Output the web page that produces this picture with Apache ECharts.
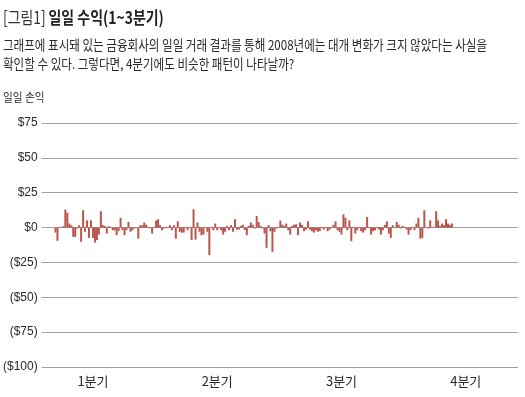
<!DOCTYPE html>
<html>
<head>
<meta charset="utf-8">
<script src="https://cdn.jsdelivr.net/npm/echarts@6/dist/echarts.min.js"></script>
<style>
  html, body { margin: 0; padding: 0; background: #ffffff; }
  #chart { width: 525px; height: 397px; }
</style>
</head>
<body>
<div id="chart"></div>
<script>
// 일일 손익 (단위: 달러), 1~3분기 거래일 순서
const dailyPnl = [
  -3.6, -9.5, 0.5, 0.3, 1, 12.9, 10.7, 2.9, 1.7, -6.7,
  -6.7, -0.7, 1.7, -10.2, 12.4, -3, 5.2, -7.4, 5.2, -7.4,
  -10.7, -9, -5, 11.7, 1.7, 1.2, -4.3, 1, 0.5, -2,
  -2, -5.5, -2.6, 7, -1.9, -5.5, -1.9, 4, -3, -1.9,
  -0.7, 0.5, -7.9, 1.7, 1.7, 3.6, 2, 0.5, -0.5, -4.3,
  0.5, 5, 6, 1.7, -1.9, -0.7, 0.5, 0.5, 1.7, -1.9,
  1.7, -7.9, 4.5, -3, -3.6, -3.6, 0.5, -1.9, 0.5, -9,
  13.1, -8.6, 3.6, -3, -5.5, -5, 0.5, -3, -19.8, 0.5,
  -1.9, 2.9, -1.9, 0.5, -1.9, -5, -3, 1.2, -1.9, 1.7,
  -3, 6, -1.4, -1.4, 1.2, 2, -1.9, -5.5, 1.2, 3.6,
  2, -0.7, 8.3, 4, 1.2, -0.7, -4.3, -14.5, 1.7, -2.6,
  -17.4, -3, -0.7, 0.5, 5, 2, 1.2, 2.9, -1.9, -5,
  1.2, 2, 2.4, -5.5, 3.6, 2, -2.6, -1.4, 4.5, -1.4,
  -2.6, -3.6, -1.9, -3, -2.6, 0.5, -1.4, 0.5, -2.6, -1.4,
  0.5, 2, 4.5, -1.9, -3, -5, 9.5, 7, -1.9, 5.2,
  -9.8, 0.5, -4.3, -1.9, 0.5, -2.6, -3.6, -1.9, 7.6, 0.5,
  -5, -2.6, -1.9, 0.5, -1.4, -5, -1.9, 2, 4.5, -4.3,
  -7.4, 1.7, 0.5, 4, 2, -0.7, 1.2, 0.5, -1.4, -5,
  -1.9, 0.5, -1.9, 2.9, 7, -7.9, -7.4, 12.4, 0.5, -0.7,
  5.2, 0.5, 0.5, 11.7, 5.2, 1.2, 2.9, 1.7, 6, 2.9,
  1.7, 2.9
];

// 분기 눈금 (거래일 번호 기준)
const quarterLabels = ['1분기', '2분기', '3분기', '4분기'];
const quarterTickDays = [19, 82, 145, 208];

// y축 눈금
const yMin = -100;
const yMax = 75;
const yStep = 25;

const descLines = [
  '그래프에 표시돼 있는 금융회사의 일일 거래 결과를 통해 2008년에는 대개 변화가 크지 않았다는 사실을',
  '확인할 수 있다. 그렇다면, 4분기에도 비슷한 패턴이 나타날까?'
];
const yAxisTitle = '일일 손익';

const KR_FONT = '"Noto Sans CJK KR", sans-serif';
const NUM_FONT = '"Liberation Sans Narrow", "Liberation Sans", sans-serif';

const chart = echarts.init(document.getElementById('chart'));

chart.setOption({
  backgroundColor: '#ffffff',
  animation: false,
  graphic: [
    {
      type: 'text',
      x: 3,
      y: 18,
      scaleX: 0.82,
      style: {
        text: '{a|[그림1]} {b|일일 수익(1~3분기)}',
        verticalAlign: 'middle',
        rich: {
          a: { fontSize: 17, fontFamily: KR_FONT, fontWeight: 'normal', fill: '#333' },
          b: { fontSize: 17, fontFamily: KR_FONT, fontWeight: 'bold', fill: '#222' }
        }
      }
    },
    {
      type: 'text',
      x: 3,
      y: 45,
      scaleX: 0.855,
      style: {
        text: descLines[0],
        fontSize: 13.5,
        fontFamily: KR_FONT,
        fill: '#2a2a2a',
        verticalAlign: 'middle'
      }
    },
    {
      type: 'text',
      x: 3,
      y: 64,
      scaleX: 0.855,
      style: {
        text: descLines[1],
        fontSize: 13.5,
        fontFamily: KR_FONT,
        fill: '#2a2a2a',
        verticalAlign: 'middle'
      }
    },
    {
      type: 'text',
      x: 3,
      y: 97,
      scaleX: 0.85,
      style: {
        text: yAxisTitle,
        fontSize: 12.5,
        fontFamily: KR_FONT,
        fill: '#2a2a2a',
        verticalAlign: 'middle'
      }
    }
  ],
  grid: {
    left: 35,
    right: 7,
    top: 123,
    bottom: 30
  },
  xAxis: {
    type: 'value',
    min: -7,
    max: 234.5,
    axisLine: { show: false, onZero: false },
    axisTick: { show: false },
    splitLine: { show: false },
    axisLabel: {
      customValues: quarterTickDays,
      formatter: (v) => quarterLabels[quarterTickDays.indexOf(v)] || '',
      margin: 8,
      fontSize: 13,
      fontFamily: KR_FONT,
      color: '#2a2a2a'
    }
  },
  yAxis: {
    type: 'value',
    min: yMin,
    max: yMax,
    interval: yStep,
    axisLine: { show: false },
    axisTick: { show: false },
    splitLine: { lineStyle: { color: '#a0a0a0', width: 1 } },
    axisLabel: {
      margin: 4,
      fontSize: 12,
      fontFamily: NUM_FONT,
      color: '#2a2a2a',
      formatter: (v) => (v < 0 ? '($' + (-v) + ')' : '$' + v)
    }
  },
  series: [
    {
      name: '일일 손익',
      type: 'bar',
      barWidth: 2,
      itemStyle: { color: '#b9554c' },
      data: dailyPnl.map((v, i) => [i, v])
    }
  ]
});
</script>
</body>
</html>
